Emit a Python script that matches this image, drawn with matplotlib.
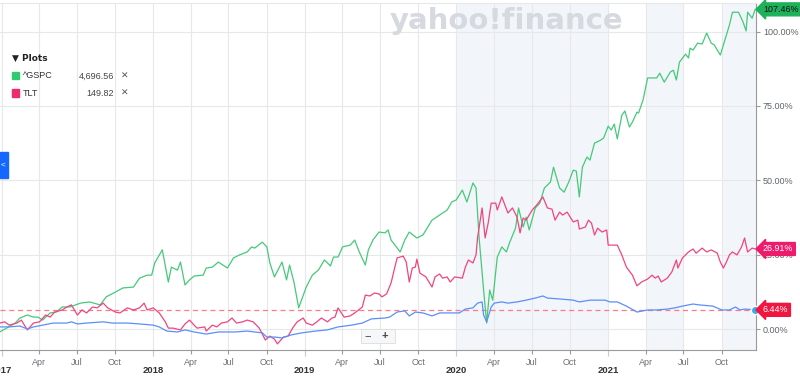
import numpy as np
import pandas as pd
import matplotlib
matplotlib.use('Agg')
import matplotlib.pyplot as plt
import matplotlib.dates as mdates

plt.rcParams['font.family'] = ['Liberation Sans', 'DejaVu Sans']

# decimal year / % change since start
gspc_t = [2016.99, 2017.05, 2017.09, 2017.12, 2017.17, 2017.21, 2017.24, 2017.27, 2017.32, 2017.36,
          2017.40, 2017.45, 2017.52, 2017.58, 2017.65, 2017.69, 2017.75, 2017.80, 2017.87, 2017.91,
          2017.96, 2017.99, 2018.01, 2018.06, 2018.10, 2018.12, 2018.16, 2018.18, 2018.21, 2018.24,
          2018.27, 2018.33, 2018.35, 2018.39, 2018.43, 2018.49, 2018.53, 2018.57, 2018.62, 2018.65,
          2018.67, 2018.72, 2018.75, 2018.77, 2018.80, 2018.85, 2018.88, 2018.90, 2018.93, 2018.96,
          2019.01, 2019.05, 2019.09, 2019.13, 2019.17, 2019.19, 2019.22, 2019.25, 2019.30, 2019.33,
          2019.36, 2019.40, 2019.42, 2019.45, 2019.49, 2019.53, 2019.55, 2019.57, 2019.63, 2019.66,
          2019.69, 2019.74, 2019.78, 2019.84, 2019.89, 2019.94, 2019.97, 2020.00, 2020.04, 2020.07,
          2020.11, 2020.13, 2020.15, 2020.18, 2020.20, 2020.22, 2020.24, 2020.27, 2020.30, 2020.33,
          2020.35, 2020.39, 2020.41, 2020.44, 2020.46, 2020.48, 2020.52, 2020.55, 2020.58, 2020.62,
          2020.64, 2020.68, 2020.71, 2020.74, 2020.77, 2020.79, 2020.81, 2020.83, 2020.86, 2020.88,
          2020.91, 2020.95, 2020.97, 2021.00, 2021.02, 2021.04, 2021.06, 2021.09, 2021.11, 2021.14,
          2021.16, 2021.19, 2021.20, 2021.23, 2021.26, 2021.32, 2021.34, 2021.37, 2021.41, 2021.43,
          2021.45, 2021.47, 2021.51, 2021.53, 2021.54, 2021.56, 2021.59, 2021.62, 2021.65, 2021.68,
          2021.70, 2021.74, 2021.77, 2021.80, 2021.82, 2021.86, 2021.89, 2021.91, 2021.92, 2021.95,
          2021.97]
gspc_v = [-0.9, 0.8, 2.0, 3.7, 4.7, 4.0, 4.0, 3.0, 5.4, 5.7,
          7.4, 7.4, 8.7, 9.1, 8.1, 10.8, 12.4, 13.8, 14.1, 17.1,
          18.1, 18.1, 22.2, 26.6, 15.8, 20.8, 19.8, 22.5, 14.8, 16.5,
          17.8, 18.1, 20.5, 20.8, 22.5, 20.5, 23.9, 24.9, 25.9, 27.6,
          27.2, 29.2, 27.6, 22.2, 17.5, 22.5, 16.5, 21.5, 15.5, 7.1,
          14.1, 18.1, 19.8, 23.2, 21.2, 24.2, 24.2, 27.6, 28.2, 29.9,
          25.9, 21.5, 26.6, 29.9, 32.6, 32.3, 33.3, 29.9, 25.9, 29.9,
          32.6, 30.6, 31.6, 36.6, 38.3, 40.0, 42.7, 43.4, 46.7, 42.7,
          49.1, 47.4, 30.9, 13.1, 2.0, 13.1, 9.7, 24.2, 27.6, 25.9,
          28.9, 33.9, 40.7, 34.3, 37.6, 33.3, 40.7, 42.3, 47.4, 49.4,
          54.4, 47.4, 46.0, 49.4, 53.4, 53.1, 44.4, 54.4, 57.8, 56.8,
          62.5, 63.5, 64.2, 68.2, 66.9, 68.9, 63.9, 71.9, 73.3, 67.9,
          69.6, 72.9, 72.6, 77.0, 84.4, 84.4, 86.0, 83.0, 86.4, 87.0,
          83.7, 89.7, 92.4, 91.1, 94.4, 93.8, 96.1, 95.8, 99.5, 96.1,
          95.5, 92.1, 97.1, 102.2, 106.5, 106.5, 103.2, 100.2, 106.5, 104.5,
          107.46]

tlt_t = [2016.99, 2017.02, 2017.05, 2017.10, 2017.13, 2017.15, 2017.17, 2017.21, 2017.25, 2017.29,
         2017.32, 2017.35, 2017.40, 2017.43, 2017.46, 2017.50, 2017.53, 2017.56, 2017.60, 2017.63,
         2017.67, 2017.70, 2017.75, 2017.78, 2017.83, 2017.87, 2017.91, 2017.94, 2017.96, 2018.00,
         2018.04, 2018.08, 2018.10, 2018.13, 2018.18, 2018.21, 2018.24, 2018.27, 2018.29, 2018.34,
         2018.35, 2018.39, 2018.42, 2018.45, 2018.49, 2018.52, 2018.55, 2018.59, 2018.62, 2018.66,
         2018.70, 2018.74, 2018.77, 2018.80, 2018.82, 2018.86, 2018.89, 2018.92, 2018.95, 2018.99,
         2019.01, 2019.05, 2019.08, 2019.11, 2019.15, 2019.18, 2019.20, 2019.22, 2019.26, 2019.30,
         2019.33, 2019.38, 2019.40, 2019.43, 2019.46, 2019.49, 2019.51, 2019.54, 2019.57, 2019.59,
         2019.61, 2019.65, 2019.67, 2019.69, 2019.71, 2019.73, 2019.74, 2019.76, 2019.80, 2019.84,
         2019.86, 2019.89, 2019.91, 2019.94, 2019.96, 2019.99, 2020.04, 2020.06, 2020.08, 2020.11,
         2020.13, 2020.14, 2020.17, 2020.19, 2020.21, 2020.23, 2020.26, 2020.27, 2020.30, 2020.32,
         2020.34, 2020.37, 2020.40, 2020.42, 2020.44, 2020.46, 2020.50, 2020.53, 2020.57, 2020.60,
         2020.63, 2020.65, 2020.68, 2020.70, 2020.73, 2020.75, 2020.77, 2020.80, 2020.81, 2020.85,
         2020.87, 2020.89, 2020.91, 2020.93, 2020.96, 2020.99, 2021.00, 2021.06, 2021.09, 2021.12,
         2021.16, 2021.19, 2021.22, 2021.26, 2021.29, 2021.31, 2021.33, 2021.35, 2021.39, 2021.42,
         2021.45, 2021.46, 2021.49, 2021.53, 2021.56, 2021.58, 2021.62, 2021.65, 2021.68, 2021.72,
         2021.74, 2021.76, 2021.78, 2021.80, 2021.82, 2021.85, 2021.88, 2021.90, 2021.92, 2021.95,
         2021.97]
tlt_v = [2.0, 2.4, 1.3, 2.0, 3.0, 1.3, -0.3, 2.0, 2.4, 4.7,
         4.0, 5.7, 6.4, 7.4, 8.1, 4.7, 6.4, 5.4, 7.4, 7.1,
         8.7, 7.1, 5.7, 5.4, 7.1, 6.4, 7.1, 8.7, 6.4, 7.1,
         5.4, 2.4, 0.3, 0.3, -0.3, 1.7, 3.0, 1.3, 0.3, 0.7,
         -0.7, 1.3, 0.7, 2.0, 2.4, 3.7, 2.0, 2.4, 3.0, 2.4,
         0.3, -3.7, -2.4, -3.4, -5.0, -2.7, -2.4, 0.3, 2.4, 3.7,
         2.0, 1.3, 2.4, 3.7, 2.4, 3.7, 4.0, 7.1, 4.0, 4.4,
         5.4, 7.4, 11.4, 11.1, 12.1, 11.8, 10.8, 11.8, 15.5, 19.8,
         23.9, 24.5, 22.5, 15.8, 20.5, 20.8, 23.5, 18.8, 17.5, 14.1,
         17.5, 18.5, 17.1, 17.5, 15.8, 17.5, 17.1, 20.8, 23.2, 22.2,
         24.9, 30.6, 40.7, 30.6, 35.6, 42.3, 42.3, 40.0, 44.4, 41.7,
         39.0, 40.7, 37.6, 32.3, 37.3, 36.6, 40.0, 41.7, 44.4, 40.7,
         40.3, 36.6, 39.3, 38.3, 39.3, 37.6, 36.0, 36.6, 33.6, 34.3,
         36.6, 35.6, 31.6, 33.9, 32.6, 33.3, 28.2, 28.2, 24.9, 20.8,
         18.1, 14.5, 15.8, 16.8, 18.1, 17.1, 17.8, 15.8, 17.1, 19.2,
         23.2, 20.5, 23.9, 25.9, 26.9, 25.5, 27.2, 25.9, 26.6, 25.5,
         22.5, 20.5, 22.5, 24.9, 25.9, 24.9, 27.6, 30.6, 25.9, 27.2,
         26.91]

main_t = [2016.99, 2017.05, 2017.12, 2017.17, 2017.21, 2017.27, 2017.34, 2017.43, 2017.46, 2017.50,
          2017.56, 2017.67, 2017.73, 2017.83, 2017.91, 2018.00, 2018.04, 2018.09, 2018.16, 2018.21,
          2018.27, 2018.35, 2018.43, 2018.54, 2018.62, 2018.72, 2018.75, 2018.80, 2018.85, 2018.91,
          2018.98, 2019.07, 2019.15, 2019.22, 2019.31, 2019.38, 2019.44, 2019.53, 2019.56, 2019.61,
          2019.66, 2019.69, 2019.73, 2019.78, 2019.84, 2019.89, 2019.96, 2020.02, 2020.06, 2020.11,
          2020.14, 2020.17, 2020.18, 2020.20, 2020.23, 2020.25, 2020.30, 2020.34, 2020.40, 2020.46,
          2020.52, 2020.57, 2020.60, 2020.68, 2020.77, 2020.81, 2020.88, 2020.98, 2021.01, 2021.06,
          2021.12, 2021.19, 2021.26, 2021.32, 2021.39, 2021.44, 2021.49, 2021.56, 2021.60, 2021.69,
          2021.75, 2021.80, 2021.84, 2021.87, 2021.90, 2021.97]
main_v = [0.7, 0.7, 1.0, 0.0, 0.7, 1.3, 2.0, 2.0, 2.4, 1.7,
          2.0, 2.4, 2.0, 2.0, 1.7, 1.3, 0.7, -0.7, -1.0, -0.3,
          -1.0, -1.7, -1.0, -1.0, -0.7, -1.3, -2.7, -2.7, -3.0, -2.0,
          -1.3, -0.7, -0.3, 0.7, 1.3, 2.0, 3.4, 3.7, 4.0, 5.7,
          6.1, 4.4, 5.7, 5.4, 4.4, 5.4, 5.4, 5.4, 6.7, 7.1,
          8.7, 9.1, 4.7, 2.4, 7.4, 8.7, 9.1, 8.7, 9.1, 9.7,
          10.4, 11.1, 10.4, 10.1, 9.7, 9.1, 9.7, 9.7, 9.1, 9.1,
          7.7, 5.7, 6.4, 6.4, 6.7, 7.1, 7.7, 8.4, 8.1, 7.7,
          6.4, 6.4, 7.4, 6.4, 6.7, 6.44]

legend_names = ['^GSPC', 'TLT']
legend_prices = ['4,696.56', '149.82']
y_ticks = [0, 25, 50, 75, 100]


def to_date(t):
    out = []
    for v in t:
        y = int(np.floor(v))
        start = pd.Timestamp(year=y, month=1, day=1)
        days = (pd.Timestamp(year=y + 1, month=1, day=1) - start).days
        out.append(start + pd.Timedelta(days=(v - y) * days))
    return out


green = '#45c97a'
pink = '#f0457f'
blue = '#5b8ff7'

fig = plt.figure(figsize=(8, 3.79), dpi=100)
ax = fig.add_axes([0, 1 - 350 / 379, 756 / 800, 347 / 379])

ax.set_xlim(pd.Timestamp('2016-12-28'), pd.Timestamp('2021-12-23'))
ax.set_ylim(-7.06, 109.6)

# shaded periods
for a, b in [('2020-01-01', '2021-01-01'), ('2021-04-01', '2021-07-01'), ('2021-10-01', '2021-12-31')]:
    ax.axvspan(pd.Timestamp(a), pd.Timestamp(b), color='#f2f5f9', lw=0, zorder=0)

ax.plot(to_date(gspc_t), gspc_v, color=green, lw=0.9, zorder=3)
ax.plot(to_date(tlt_t), tlt_v, color=pink, lw=0.9, zorder=3)
ax.plot(to_date(main_t), main_v, color=blue, lw=0.9, zorder=4)
ax.axhline(main_v[-1], color='#ff7a85', lw=0.9, ls=(0, (4, 3)), zorder=2)
ax.plot(to_date(main_t[-1:]), main_v[-1:], 'o', ms=6, color='#3ca9ef', mec='white', mew=1, zorder=6,
        clip_on=False)

# axes
ax.xaxis.set_major_locator(mdates.YearLocator())
ax.xaxis.set_major_formatter(mdates.DateFormatter('%Y'))
ax.xaxis.set_minor_locator(mdates.MonthLocator(bymonth=[4, 7, 10]))
ax.xaxis.set_minor_formatter(mdates.DateFormatter('%b'))
ax.tick_params(axis='x', which='major', length=4, pad=7.5, labelsize=6.8, labelcolor='#333333',
               color='#c8c8c8', width=0.8)
ax.tick_params(axis='x', which='minor', length=3, pad=3, labelsize=6.5, labelcolor='#6b7177',
               color='#9a9a9a', width=0.8)
for lab in ax.get_xticklabels():
    lab.set_fontweight('bold')

ax.yaxis.tick_right()
ax.set_yticks(y_ticks)
ax.set_yticklabels(['%.2f%%' % v for v in y_ticks])
ax.tick_params(axis='y', length=3, pad=2, labelsize=6.5, labelcolor='#5f656b', color='#9a9a9a', width=0.8)

ax.grid(True, which='both', axis='x', color='#e6e8ea', lw=0.8, zorder=1)
ax.grid(True, which='major', axis='y', color='#e6e8ea', lw=0.8, zorder=1)
ax.set_axisbelow(True)

ax.spines['left'].set_visible(False)
ax.spines['top'].set_color('#e6e8ea')
ax.spines['right'].set_color('#9a9a9a')
ax.spines['bottom'].set_color('#9a9a9a')

# value tags on the right
tags = [(gspc_v[-1], '#1db15a', '#111111'), (tlt_v[-1], '#ee1a6b', 'white'), (main_v[-1], '#f0163f', 'white')]
for val, bg, fg in tags:
    ax.annotate('%.2f%%' % val, xy=(1.0, val), xycoords=('axes fraction', 'data'),
                xytext=(5, 0), textcoords='offset points', ha='left', va='center',
                fontsize=6.4, color=fg, zorder=10, annotation_clip=False,
                bbox=dict(boxstyle='larrow,pad=0.22', fc=bg, ec=bg))

# watermark
fig.text(0.487, 0.945, 'yahoo!finance', fontsize=21, fontweight='bold', color='#d6d9df',
         family='DejaVu Sans', ha='left', va='center', zorder=0)

# legend panel
fig.text(12 / 800, 1 - 58 / 379, '\u25bc Plots', fontsize=6.5, fontweight='bold', color='#222222',
         family=['DejaVu Sans'], va='center')
for i, (name, price, col) in enumerate(zip(legend_names, legend_prices, [green, pink])):
    yy = 1 - (76 + i * 17) / 379
    fig.patches.append(plt.Rectangle((12 / 800, yy - 3.5 / 379), 7 / 800, 7 / 379, transform=fig.transFigure,
                                     color='#2ecc71' if i == 0 else '#ee2b6c', zorder=5))
    fig.text(23 / 800, yy, name, fontsize=6.5, color='#333333', va='center')
    fig.text(114 / 800, yy, price, fontsize=6.5, color='#444444', va='center', ha='right')
    fig.text(125 / 800, yy, '\u2715', fontsize=6.5, color='#555555', va='center', ha='center',
             family='DejaVu Sans')

# left blue tab
fig.patches.append(plt.Rectangle((0, 1 - 178 / 379), 8 / 800, 26 / 379, transform=fig.transFigure,
                                 color='#1467ff', zorder=5))
fig.text(3 / 800, 1 - 165 / 379, '<', fontsize=6, color='white', va='center', ha='center', zorder=6)

# zoom buttons
fig.patches.append(plt.Rectangle((361 / 800, 1 - 343 / 379), 34 / 800, 14 / 379, transform=fig.transFigure,
                                 fc='#f6f7f8', ec='#dddddd', lw=0.6, zorder=5))
fig.text(368 / 800, 1 - 336 / 379, '\u2212', fontsize=8, color='#444444', va='center', ha='center', zorder=6)
fig.text(385 / 800, 1 - 336 / 379, '+', fontsize=8, fontweight='bold', color='#444444', va='center',
         ha='center', zorder=6)

fig.savefig('out.png', dpi=100)
